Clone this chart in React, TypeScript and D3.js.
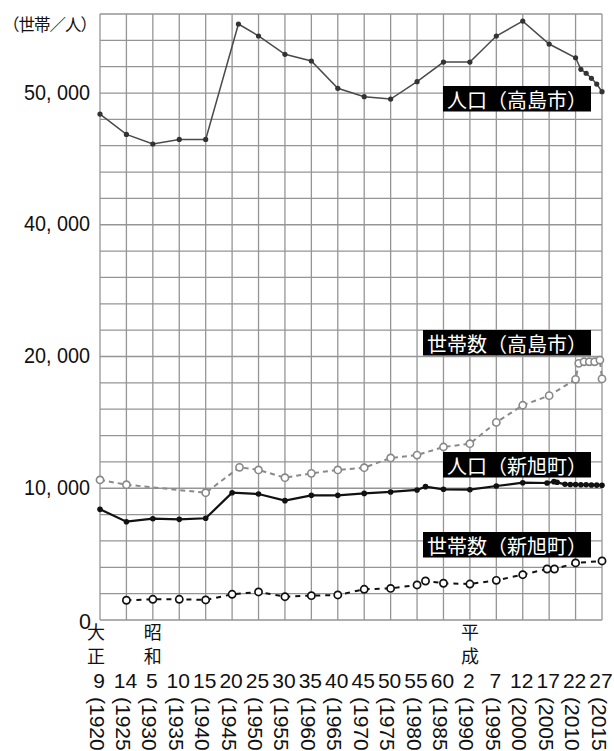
import React from "react";
import * as d3 from "d3";

// ---- data ----
const takashimaPopYears = [1920, 1925, 1930, 1935, 1940, 1946.2, 1950, 1955, 1960, 1965, 1970, 1975, 1980, 1985, 1990, 1995, 2000, 2005, 2010, 2011, 2012, 2013, 2014, 2015];
const takashimaPop = [48400, 46860, 46130, 46480, 46480, 55240, 54330, 52940, 52430, 50360, 49720, 49540, 50860, 52350, 52350, 54330, 55460, 53720, 52680, 51800, 51500, 51120, 50680, 50100];

const takashimaHhYears = [1920, 1925, 1940, 1946.4, 1950, 1955, 1960, 1965, 1970, 1975, 1980, 1985, 1990, 1995, 2000, 2005, 2010, 2010.6, 2011.6, 2012.6, 2013.6, 2014.6, 2015];
const takashimaHh = [10630, 10270, 9660, 11590, 11390, 10800, 11130, 11390, 11560, 12300, 12520, 13130, 13380, 15000, 16300, 17030, 18270, 19480, 19600, 19600, 19600, 19730, 18300];

const shinPopYears = [1920, 1925, 1930, 1935, 1940, 1945, 1950, 1955, 1960, 1965, 1970, 1975, 1980, 1981.6, 1985, 1990, 1995, 2000, 2004.6, 2005.9, 2006.5, 2008, 2009, 2010, 2011, 2012, 2013, 2014, 2015];
const shinPop = [8400, 7460, 7690, 7640, 7720, 9660, 9560, 9060, 9460, 9460, 9610, 9720, 9870, 10120, 9920, 9890, 10170, 10420, 10400, 10500, 10450, 10300, 10290, 10280, 10270, 10260, 10250, 10240, 10230];

const shinHhYears = [1925, 1930, 1935, 1940, 1945, 1950, 1955, 1960, 1965, 1970, 1975, 1980, 1981.6, 1985, 1990, 1995, 2000, 2004.6, 2006, 2010, 2015];
const shinHh = [1500, 1570, 1570, 1520, 1950, 2130, 1770, 1850, 1900, 2330, 2400, 2660, 2960, 2790, 2730, 3010, 3440, 3870, 3870, 4330, 4480];

const censusYears = [1920, 1925, 1930, 1935, 1940, 1945, 1950, 1955, 1960, 1965, 1970, 1975, 1980, 1985, 1990, 1995, 2000, 2005, 2010, 2015];
const eraYearLabels = ["9", "14", "5", "10", "15", "20", "25", "30", "35", "40", "45", "50", "55", "60", "2", "7", "12", "17", "22", "27"];
const eraNames = [
  { year: 1920, name: "大正" },
  { year: 1930, name: "昭和" },
  { year: 1990, name: "平成" },
];
const yTickValues = [0, 10000, 20000, 40000, 50000];
const yTickLabels = ["0", "10, 000", "20, 000", "40, 000", "50, 000"];
const unitLabel = "（世帯／人）";

const seriesLabels = [
  { text: "人口（高島市）", top: 86 },
  { text: "世帯数（高島市）", top: 330 },
  { text: "人口（新旭町）", top: 452 },
  { text: "世帯数（新旭町）", top: 532 },
];

// ---- layout ----
const W = 614;
const H = 751;
const left = 100;
const right = 602;
const top = 14;
const bottom = 620;

const x = d3.scaleLinear().domain([1920, 2015]).range([left, right]);
// broken axis: 2,000 per cell below 20,000 and above 40,000; 4,000 per cell in between
const y = d3.scaleLinear().domain([0, 20000, 40000, 56000]).range([bottom, 356.5, 224.75, top]);

const gridValues = [
  ...d3.range(0, 20001, 2000),
  24000, 28000, 32000, 36000,
  ...d3.range(40000, 56001, 2000),
];

const latin = "'Liberation Sans', Arial, sans-serif";
const cjk = "'Noto Sans CJK JP', sans-serif";

function zip(xs: number[], vs: number[]) {
  return xs.map((yr, i) => [yr, vs[i]] as [number, number]);
}

const line = d3
  .line<[number, number]>()
  .x((d) => x(d[0]))
  .y((d) => y(d[1]));

export default function App() {
  const tPop = zip(takashimaPopYears, takashimaPop);
  const tHh = zip(takashimaHhYears, takashimaHh);
  const sPop = zip(shinPopYears, shinPop);
  const sHh = zip(shinHhYears, shinHh);

  return (
    <svg
      width={W}
      height={H}
      style={{ position: "absolute", left: 0, top: 0, background: "#fff" }}
    >
      <rect x={0} y={0} width={W} height={H} fill="#fff" />
      {/* grid */}
      <g stroke="#959595" strokeWidth={1.3}>
        {gridValues.map((v) => (
          <line key={"h" + v} x1={left} x2={right} y1={y(v)} y2={y(v)} />
        ))}
        {censusYears.map((yr) => (
          <line key={"v" + yr} x1={x(yr)} x2={x(yr)} y1={top} y2={bottom} />
        ))}
      </g>

      {/* Takashima households: gray dashed, hollow circles */}
      <path d={line(tHh) || ""} fill="none" stroke="#8a8a8a" strokeWidth={2} strokeDasharray="5,4" />
      {tHh.map((d, i) => (
        <circle key={"th" + i} cx={x(d[0])} cy={y(d[1])} r={3.6} fill="#fff" stroke="#888" strokeWidth={1.6} />
      ))}

      {/* Takashima population: dark gray solid, dots */}
      <path d={line(tPop) || ""} fill="none" stroke="#4a4a4a" strokeWidth={1.5} />
      {tPop.map((d, i) => (
        <circle key={"tp" + i} cx={x(d[0])} cy={y(d[1])} r={2.6} fill="#333" />
      ))}

      {/* Shin-Asahi population: black solid, dots */}
      <path d={line(sPop) || ""} fill="none" stroke="#111" strokeWidth={2.2} />
      {sPop.map((d, i) => (
        <circle key={"sp" + i} cx={x(d[0])} cy={y(d[1])} r={2.8} fill="#111" />
      ))}

      {/* Shin-Asahi households: black dashed, hollow circles */}
      <path d={line(sHh) || ""} fill="none" stroke="#111" strokeWidth={2} strokeDasharray="5,5" />
      {sHh.map((d, i) => (
        <circle key={"sh" + i} cx={x(d[0])} cy={y(d[1])} r={3.6} fill="#fff" stroke="#111" strokeWidth={1.7} />
      ))}

      {/* series labels */}
      {seriesLabels.map((l) => {
        const n = Array.from(l.text).length;
        const w = n * 20 + 8;
        const xr = 591;
        return (
          <g key={l.text}>
            <rect x={xr - w} y={l.top} width={w} height={25.5} fill="#000" />
            <text
              x={xr - 4}
              y={l.top + 13}
              textAnchor="end"
              dominantBaseline="central"
              fill="#fff"
              fontFamily={cjk}
              fontSize={20}
            >
              {l.text}
            </text>
          </g>
        );
      })}

      {/* unit */}
      <text x={3} y={24} dominantBaseline="central" fontFamily={cjk} fontSize={16.5} fill="#111" textLength={94}>
        {unitLabel}
      </text>

      {/* y tick labels */}
      {yTickValues.map((v, i) => (
        <text
          key={"yl" + v}
          x={v === 0 ? 91 : 90}
          y={v === 0 ? y(v) + 1.5 : y(v) - 0.5}
          textAnchor="end"
          dominantBaseline="central"
          fontFamily={latin}
          fontSize={21.5}
          fill="#111"
          textLength={v === 0 ? undefined : (v >= 40000 || v === 20000 ? 66 : 66)}
          lengthAdjust="spacingAndGlyphs"
        >
          {yTickLabels[i]}
        </text>
      ))}

      {/* era names (vertical) */}
      {eraNames.map((e) => {
        const cx = e.year === 1920 ? x(e.year) - 4 : x(e.year);
        return Array.from(e.name).map((ch, j) => (
          <text
            key={e.name + j}
            x={cx}
            y={631 + j * 24}
            textAnchor="middle"
            dominantBaseline="central"
            fontFamily={cjk}
            fontSize={18}
            fill="#111"
          >
            {ch}
          </text>
        ));
      })}

      {/* era year numbers */}
      {censusYears.map((yr, i) => (
        <text
          key={"ey" + yr}
          x={x(yr) - 1}
          y={680}
          textAnchor="middle"
          dominantBaseline="central"
          fontFamily={latin}
          fontSize={21}
          fill="#111"
        >
          {eraYearLabels[i]}
        </text>
      ))}

      {/* western years, rotated */}
      {censusYears.map((yr) => (
        <text
          key={"wy" + yr}
          transform={`translate(${x(yr) - 3},${697}) rotate(90)`}
          textAnchor="start"
          dominantBaseline="central"
          fontFamily={latin}
          fontSize={21}
          fill="#111"
        >
          {`(${yr})`}
        </text>
      ))}
    </svg>
  );
}
